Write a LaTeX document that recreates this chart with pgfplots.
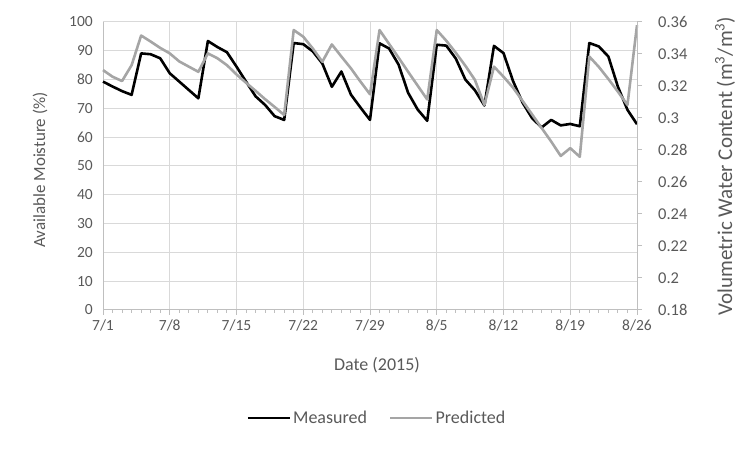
\documentclass[border=0pt]{standalone}
\usepackage{pgfplots}
\pgfplotsset{compat=1.18}
\usepackage{fontspec}
\setmainfont{Carlito}
\definecolor{txt}{HTML}{595959}
\definecolor{gridc}{HTML}{D9D9D9}
\definecolor{axc}{HTML}{BFBFBF}
\definecolor{pred}{HTML}{A5A5A5}
\begin{document}
\fontsize{15bp}{18bp}\selectfont
\begin{tikzpicture}
\path[use as bounding box] (0bp,0bp) rectangle (749bp,450bp);
\begin{axis}[
 at={(103bp,140bp)}, anchor=south west,
 scale only axis, width=534bp, height=288bp,
 xmin=0, xmax=56, ymin=0, ymax=100,
 xtick={0,7,...,56},
 xticklabels={7/1,7/8,7/15,7/22,7/29,8/5,8/12,8/19,8/26},
 minor x tick num=6,
 ytick={0,10,...,100},
 axis x line*=bottom, axis y line*=left,
 axis line style={draw=axc, line width=1bp, -},
 xmajorgrids, ymajorgrids,
 grid style={draw=gridc, line width=1bp},
 tick align=outside,
 x tick style={draw=axc, line width=1bp},
 major tick length=5bp, minor tick length=3bp,
 y tick style={draw=none},
 tick label style={text=txt, font=\fontsize{15.5bp}{18bp}\selectfont},
 /pgf/number format/assume math mode=true,
 xlabel={Date (2015)}, ylabel={Available Moisture (\%)},
 label style={text=txt},
 xlabel style={at={(axis description cs:0.513,-0.191)}, anchor=center, font=\fontsize{18bp}{20bp}\selectfont},
 ylabel style={at={(axis description cs:-0.118,0.486)}, anchor=center, font=\fontsize{17bp}{20bp}\selectfont},
 legend style={at={(axis description cs:0.513,-0.375)}, anchor=center, draw=none, fill=none,
   legend columns=2, text=txt, font=\fontsize{18bp}{20bp}\selectfont,
   /tikz/every even column/.append style={column sep=20bp}},
 legend image code/.code={\draw[#1] (0bp,0bp) -- (42bp,0bp);},
 clip=false,
]
\addplot[black, line width=2.6bp, line join=round] coordinates {
(0,79.3) (1,77.6) (2,76) (3,74.7) (4,89.1) (5,88.8) (6,87.4) (7,82.2) (8,79.3) (9,76.4)
(10,73.5) (11,93.4) (12,91.3) (13,89.5) (14,84.5) (15,79.3) (16,74.2) (17,71.2) (18,67.3) (19,66)
(20,92.7) (21,92.3) (22,89.8) (23,85.6) (24,77.5) (25,82.8) (26,74.8) (27,70.3) (28,66) (29,92.6)
(30,90.8) (31,85.2) (32,75.4) (33,69.6) (34,65.7) (35,92.1) (36,91.8) (37,87.3) (38,80) (39,76.3)
(40,71) (41,91.7) (42,89.2) (43,79.5) (44,72) (45,66.6) (46,63.4) (47,66) (48,64.1) (49,64.6)
(50,63.8) (51,92.7) (52,91.5) (53,88) (54,77.5) (55,69.5) (56,64.5)
};
\addlegendentry{Measured}
\addplot[pred, line width=2.6bp, line join=round] coordinates {
(0,83.3) (1,81) (2,79.5) (3,85) (4,95.3) (5,93.2) (6,91) (7,89.1) (8,86.3) (9,84.5)
(10,82.7) (11,89.1) (12,87.4) (13,85) (14,81.8) (15,78.9) (16,76.1) (17,73.2) (18,70.5) (19,67.7)
(20,97.2) (21,94.9) (22,90.8) (23,86.2) (24,92.2) (25,88) (26,83.9) (27,79.3) (28,74.9) (29,97.2)
(30,92.4) (31,87.6) (32,82.7) (33,77.9) (34,73.1) (35,97.2) (36,93.5) (37,89.3) (38,84.8) (39,79.9)
(40,71.2) (41,84.5) (42,81) (43,77.2) (44,72.6) (45,67.9) (46,63.2) (47,58.5) (48,53.5) (49,56.2)
(50,53.2) (51,88) (52,84.4) (53,80.2) (54,75.8) (55,71.2) (56,98.9)
};
\addlegendentry{Predicted}
\end{axis}
\begin{axis}[
 at={(103bp,140bp)}, anchor=south west,
 scale only axis, width=534bp, height=288bp,
 xmin=0, xmax=56, ymin=0.18, ymax=0.36,
 ytick={0.18,0.2,0.22,0.24,0.26,0.28,0.3,0.32,0.34,0.36},
 axis x line=none, axis y line*=right,
 axis line style={draw=axc, line width=1bp, -},
 tick align=outside,
 y tick style={draw=axc, line width=1bp},
 major tick length=5bp,
 tick label style={text=txt, font=\fontsize{16.5bp}{18bp}\selectfont},
 yticklabel style={xshift=11bp},
 /pgf/number format/assume math mode=true,
 ylabel={Volumetric Water Content (m\textsuperscript{3}/m\textsuperscript{3})},
 label style={text=txt},
 ylabel style={at={(axis description cs:1.165,0.5)}, anchor=center, font=\fontsize{21bp}{24bp}\selectfont},
]
\addplot[draw=none] coordinates {(0,0.2) (56,0.3)};
\end{axis}
\end{tikzpicture}
\end{document}
